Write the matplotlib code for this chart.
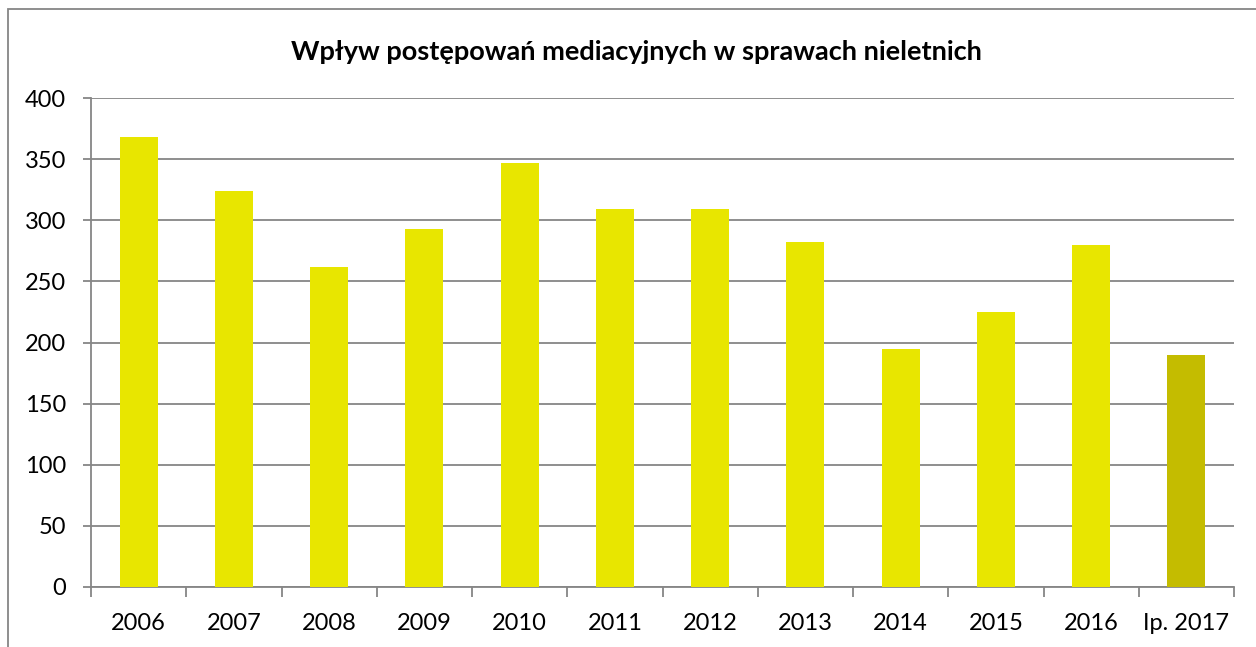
import matplotlib.pyplot as plt
from matplotlib.patches import Rectangle
import numpy as np

plt.rcParams['font.family'] = ['Lato', 'DejaVu Sans']

labels = ['2006', '2007', '2008', '2009', '2010', '2011', '2012', '2013',
          '2014', '2015', '2016', 'Ip. 2017']
values = [368, 324, 262, 293, 347, 309, 309, 282, 195, 225, 280, 190]
colors = ['#E8E600'] * 11 + ['#C4BC00']

W, H = 1256, 647
fig = plt.figure(figsize=(W / 100, H / 100), dpi=100)
ax = fig.add_axes([91 / W, 1 - 586.7 / H, (1234 - 91) / W, (586.7 - 98.3) / H])

x = np.arange(len(labels))
ax.bar(x, values, width=0.4, color=colors, zorder=3)

ax.set_xlim(-0.5, len(labels) - 0.5)
ax.set_ylim(0, 400)
ax.set_yticks(range(0, 401, 50))
ax.yaxis.grid(True, color='#868686', linewidth=1.3)
ax.set_axisbelow(True)

for s in ['top', 'right']:
    ax.spines[s].set_visible(False)
for s in ['left', 'bottom']:
    ax.spines[s].set_color('#868686')
    ax.spines[s].set_linewidth(1.3)

ax.set_xticks(x)
ax.set_xticklabels(labels)
ax.set_xticks(np.arange(-0.5, len(labels)), minor=True)
ax.tick_params(axis='x', which='major', length=0, pad=19, labelsize=17)
ax.tick_params(axis='x', which='minor', length=7, width=1.3, color='#868686', direction='out')
ax.tick_params(axis='y', length=6, width=1.3, color='#868686', pad=12, labelsize=17)

fig.text(636 / W, 1 - 52 / H, 'Wpływ postępowań mediacyjnych w sprawach nieletnich',
         ha='center', va='center', fontsize=19.5, fontweight='bold')

# ramka wykresu
fig.patches.append(Rectangle((8 / W, -0.1), 1.5, 1 - 9 / H + 0.1, transform=fig.transFigure,
                             fill=False, edgecolor='#868686', linewidth=1.3))

fig.savefig('out.png', dpi=100)
